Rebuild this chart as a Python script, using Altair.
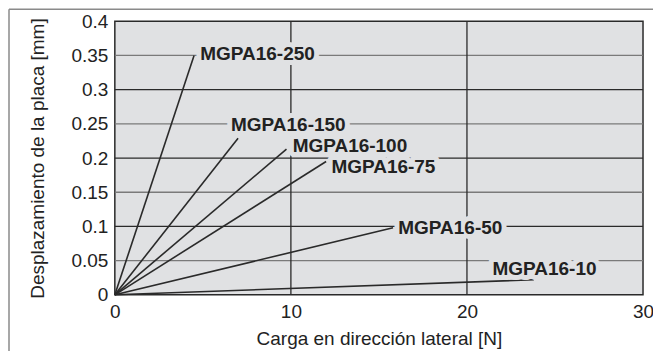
import altair as alt
import pandas as pd

# ---- data ----
series = ["MGPA16-250", "MGPA16-150", "MGPA16-100", "MGPA16-75", "MGPA16-50", "MGPA16-10"]
end_x = [4.5, 7.0, 9.75, 12.0, 15.8, 23.8]
end_y = [0.35, 0.229, 0.213, 0.195, 0.098, 0.022]
label_x = [4.85, 6.6, 10.1, 12.3, 16.1, 21.45]
label_y = [0.352, 0.248, 0.2175, 0.187, 0.098, 0.038]

grid_minor_y = [0.05, 0.15, 0.25, 0.35]
grid_major_y = [0.1, 0.2, 0.3]
grid_major_x = [10, 20]

x_ticks = [0, 10, 20, 30]
y_ticks = [0, 0.05, 0.1, 0.15, 0.2, 0.25, 0.3, 0.35, 0.4]

BG = "#e0e1e3"
DARK = "#2a2a2a"
FONT = "Liberation Sans"

rows = []
for s, ex, ey in zip(series, end_x, end_y):
    rows.append({"series": s, "x": 0.0, "y": 0.0})
    rows.append({"series": s, "x": ex, "y": ey})
lines_df = pd.DataFrame(rows)
labels_df = pd.DataFrame({"series": series, "x": label_x, "y": label_y})

xscale = alt.Scale(domain=[0, 30], nice=False, zero=True)
yscale = alt.Scale(domain=[0, 0.4], nice=False, zero=True)

xaxis = alt.Axis(values=x_ticks, grid=False, ticks=False, domain=False, format="d",
                 labelFontSize=19, labelFont=FONT, labelColor="#222", labelPadding=8,
                 labelOverlap=False,
                 title="Carga en dirección lateral [N]", titleFontSize=19, titleFont=FONT,
                 titleFontWeight="normal", titleColor="#222", titlePadding=8,
                 labelFlush=False)
yaxis = alt.Axis(values=y_ticks, grid=False, ticks=False, domain=False, format="~g",
                 labelFontSize=19, labelFont=FONT, labelColor="#222", labelPadding=7,
                 labelOverlap=False,
                 title="Desplazamiento de la placa [mm]", titleFontSize=19, titleFont=FONT,
                 titleFontWeight="normal", titleColor="#222",
                 titleX=-77, titleY=137, titleBaseline="middle", titleAngle=-90,
                 labelFlush=False)

X = lambda f: alt.X(f, scale=xscale, axis=xaxis, title="Carga en dirección lateral [N]")
Y = lambda f: alt.Y(f, scale=yscale, axis=yaxis, title="Desplazamiento de la placa [mm]")

gmin = alt.Chart(pd.DataFrame({"y": grid_minor_y})).mark_rule(color="#7a7a7a", strokeWidth=1.3).encode(
    y=Y("y:Q"))
gmaj = alt.Chart(pd.DataFrame({"y": grid_major_y})).mark_rule(color=DARK, strokeWidth=1.3).encode(
    y=Y("y:Q"))
gx = alt.Chart(pd.DataFrame({"x": grid_major_x})).mark_rule(color=DARK, strokeWidth=1.3).encode(
    x=X("x:Q"))

lines = alt.Chart(lines_df).mark_line(color=DARK, strokeWidth=1.6).encode(
    x=X("x:Q"), y=Y("y:Q"), detail="series:N",
)

halo = alt.Chart(labels_df).mark_text(
    align="left", baseline="middle", font=FONT, fontSize=19, fontWeight="bold",
    color=BG, stroke=BG, strokeWidth=10, strokeJoin="round"
).encode(x=X("x:Q"), y=Y("y:Q"), text="series:N")

labels = alt.Chart(labels_df).mark_text(
    align="left", baseline="middle", font=FONT, fontSize=19, fontWeight="bold", color="#222"
).encode(x=X("x:Q"), y=Y("y:Q"), text="series:N")

frame_left = alt.Chart(pd.DataFrame({"a": [0]})).mark_rule(color="#8a8a8a", strokeWidth=1.5).encode(
    x=alt.value(-106), y=alt.value(-12), y2=alt.value(340))
frame_top = alt.Chart(pd.DataFrame({"a": [0]})).mark_rule(color="#8a8a8a", strokeWidth=1.5).encode(
    x=alt.value(-106), x2=alt.value(545), y=alt.value(-12))

chart = alt.layer(gmin, gmaj, gx, lines, halo, labels, frame_left, frame_top).properties(
    width=529, height=274,
    autosize=alt.AutoSizeParams(type="none"),
    padding={"left": 107, "top": 13, "right": 10, "bottom": 56},
    background="white",
).configure_view(fill=BG, stroke=DARK, strokeWidth=1.5)

chart.save("out.html", embed_options={"renderer": "svg", "actions": False})
